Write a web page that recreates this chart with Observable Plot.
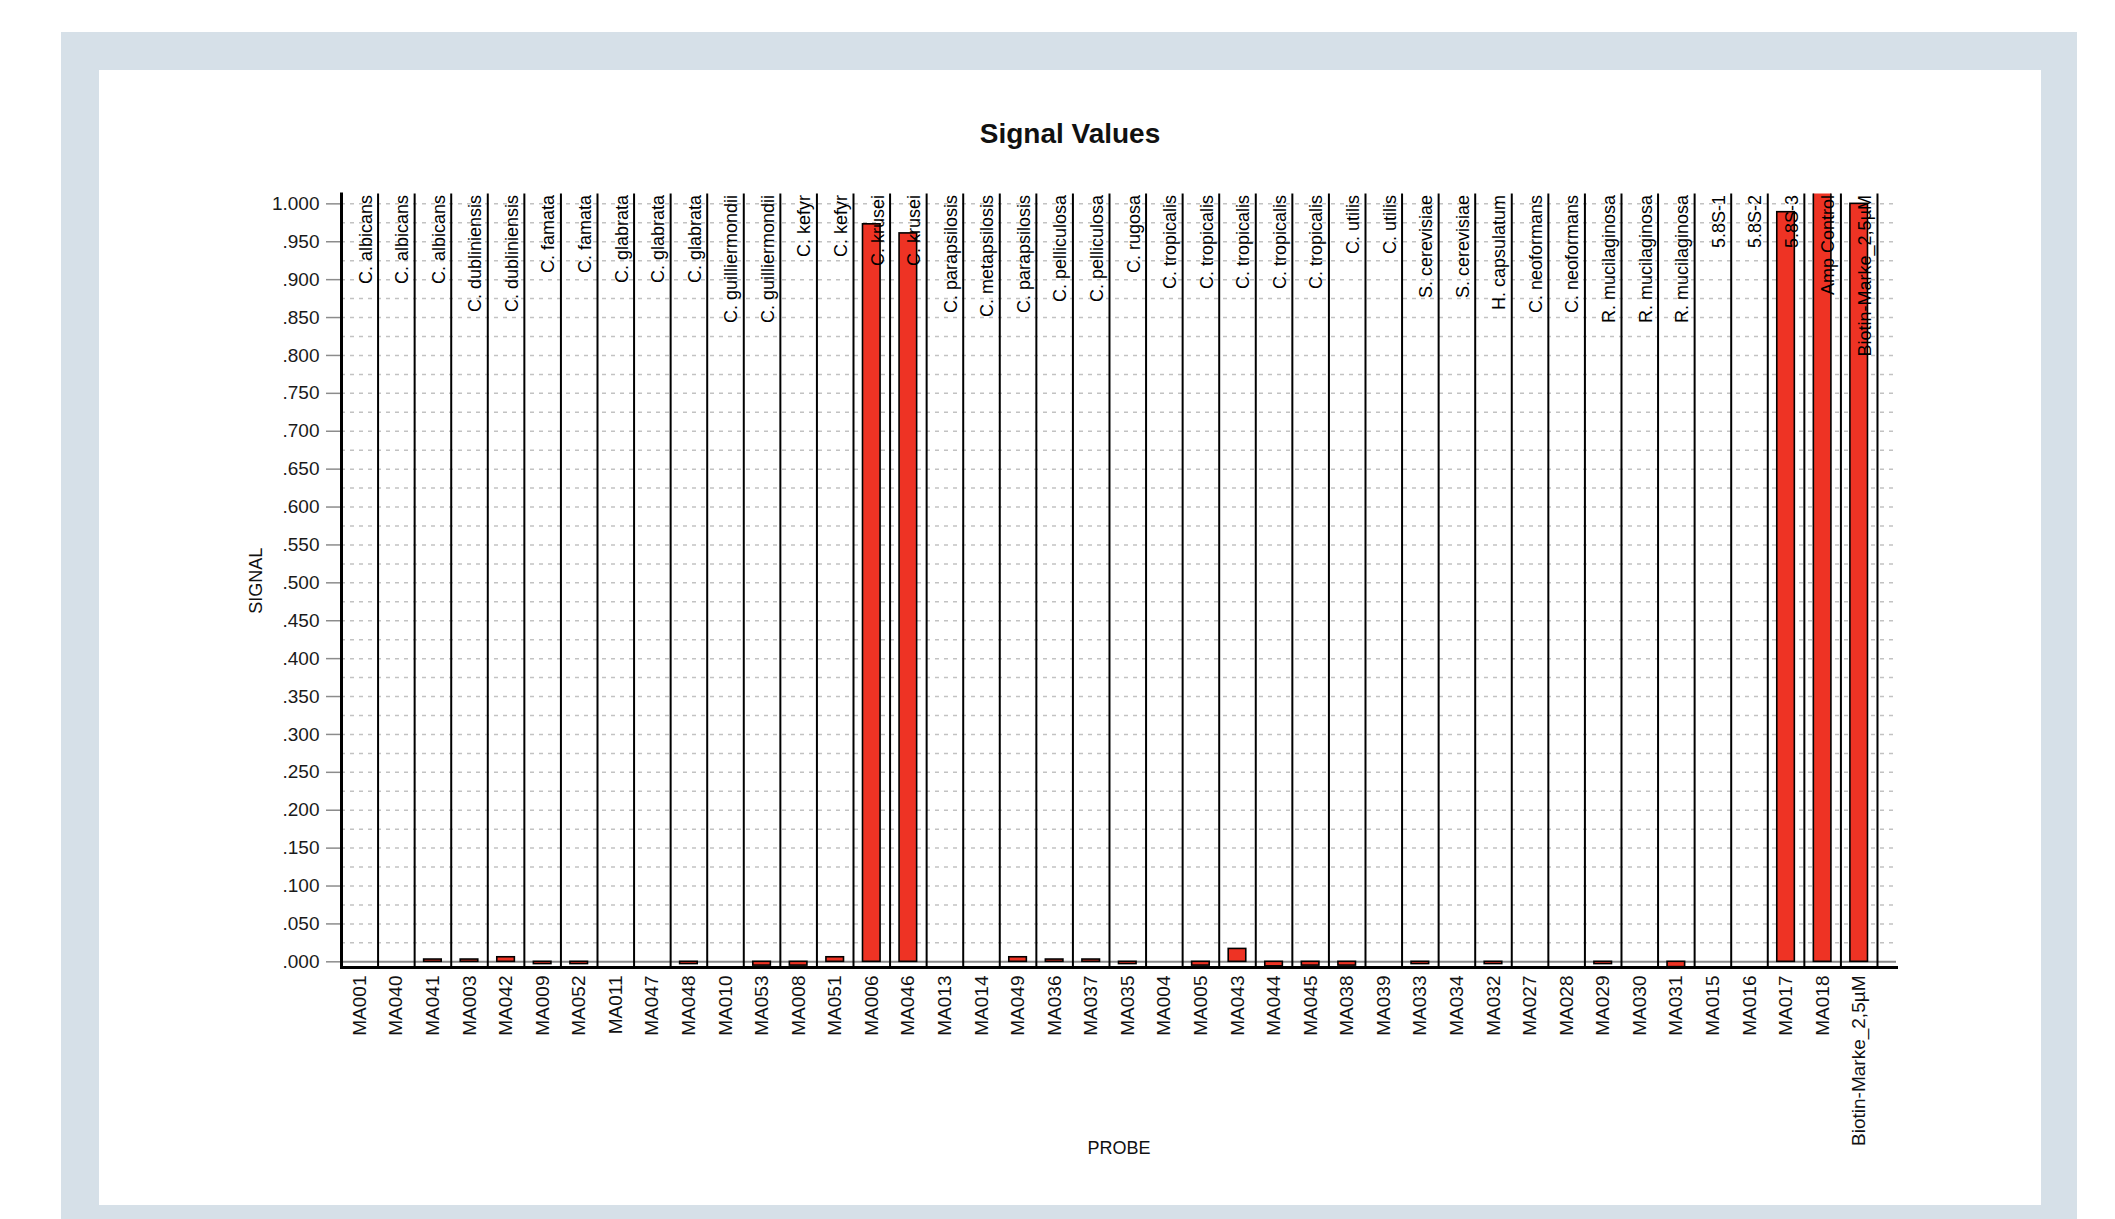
<!DOCTYPE html>
<html>
<head>
<meta charset="utf-8">
<script src="https://cdn.jsdelivr.net/npm/d3@7"></script>
<script src="https://cdn.jsdelivr.net/npm/@observablehq/plot@0.6"></script>
<style>
  html, body { margin: 0; padding: 0; background: #fff; width: 2115px; height: 1219px; overflow: hidden; }
  #backdrop { position: absolute; left: 61px; top: 32px; width: 2016px; height: 1187px; background: #d6e0e8; }
  #panel { position: absolute; left: 99px; top: 70px; width: 1942px; height: 1135px; background: #fff; }
  #title { position: absolute; left: 0; top: 50px; width: 100%; text-align: center;
           font: bold 28px/28px "Liberation Sans", Arial, sans-serif; color: #111; }
  #chart { position: absolute; left: 0; top: 90px; }
</style>
</head>
<body>
<div id="backdrop"></div>
<div id="panel">
  <div id="title">Signal Values</div>
  <div id="chart"></div>
</div>
<script>
// Probe identifiers along the x axis
const probes = [
  "MA001", "MA040", "MA041", "MA003", "MA042", "MA009", "MA052", "MA011", "MA047", "MA048",
  "MA010", "MA053", "MA008", "MA051", "MA006", "MA046", "MA013", "MA014", "MA049", "MA036",
  "MA037", "MA035", "MA004", "MA005", "MA043", "MA044", "MA045", "MA038", "MA039", "MA033",
  "MA034", "MA032", "MA027", "MA028", "MA029", "MA030", "MA031", "MA015", "MA016", "MA017",
  "MA018", "Biotin-Marke_2,5µM"
];

// Target organism of each probe, written at the top of its column
const species = [
  "C. albicans", "C. albicans", "C. albicans", "C. dubliniensis", "C. dubliniensis",
  "C. famata", "C. famata", "C. glabrata", "C. glabrata", "C. glabrata",
  "C. guilliermondii", "C. guilliermondii", "C. kefyr", "C. kefyr", "C. krusei", "C. krusei",
  "C. parapsilosis", "C. metapsilosis", "C. parapsilosis", "C. pelliculosa", "C. pelliculosa",
  "C. rugosa", "C. tropicalis", "C. tropicalis", "C. tropicalis", "C. tropicalis", "C. tropicalis",
  "C. utilis", "C. utilis", "S. cerevisiae", "S. cerevisiae", "H. capsulatum",
  "C. neoformans", "C. neoformans", "R. mucilaginosa", "R. mucilaginosa", "R. mucilaginosa",
  "5.8S-1", "5.8S-2", "5.8S-3", "Amp Control", "Biotin-Marke_2,5µM"
];

// Measured signal per probe
const signal = [
  0, 0, 0.003, 0.003, 0.006, -0.003, -0.003, 0, 0, -0.003,
  0, -0.005, -0.005, 0.006, 0.973, 0.961, 0, 0, 0.006, 0.003,
  0.003, -0.003, 0, -0.005, 0.017, -0.006, -0.005, -0.005, 0, -0.003,
  0, -0.003, 0, 0, -0.003, 0, -0.007, 0, 0, 0.989,
  1.02, 1.0
];

// Labelled y ticks
const yTickValues = [0, 0.05, 0.1, 0.15, 0.2, 0.25, 0.3, 0.35, 0.4, 0.45, 0.5,
                     0.55, 0.6, 0.65, 0.7, 0.75, 0.8, 0.85, 0.9, 0.95, 1];
const yTickLabels = [".000", ".050", ".100", ".150", ".200", ".250", ".300", ".350", ".400", ".450", ".500",
                     ".550", ".600", ".650", ".700", ".750", ".800", ".850", ".900", ".950", "1.000"];

const rows = probes.map((probe, i) => ({probe, species: species[i], signal: signal[i]}));

const width = 1942, height = 1045;
const marginLeft = 242, marginRight = 145, marginTop = 33.5, marginBottom = 238;
const paddingOuter = 0.26;
const step = (width - marginLeft - marginRight) / (probes.length + 2 * paddingOuter);
const gridValues = d3.range(1, 41).map(k => k * 0.025);
const font = "'Liberation Sans', Arial, sans-serif";

const chart = Plot.plot({
  width, height, marginLeft, marginRight, marginTop, marginBottom,
  style: {fontFamily: font, fontSize: "18px", color: "#111", background: "#fff"},
  x: {type: "band", domain: probes, paddingInner: 0, paddingOuter, align: 0, round: false, axis: null},
  y: {domain: [-0.0075, 1.013], axis: null},
  marks: [
    Plot.gridY(gridValues, {stroke: "#c2c2c2", strokeOpacity: 1, strokeWidth: 1.5, strokeDasharray: "4,5"}),
    Plot.ruleY([0], {stroke: "#8a8a8a", strokeWidth: 2}),
    // column separators on the right edge of each probe
    Plot.ruleX(probes, {dx: step / 2, stroke: "#000", strokeWidth: 2}),
    Plot.barY(rows.filter(d => d.signal !== 0), {
      x: "probe", y: "signal", fill: "#ee3324", stroke: "#000", strokeWidth: 1.6,
      insetLeft: 9.5, insetRight: 9.5, clip: true
    }),
    Plot.text(rows, {
      x: "probe", text: "species", frameAnchor: "top", rotate: -90,
      textAnchor: "end", lineAnchor: "middle",
      dx: 6, dy: 1, fontSize: 18, fill: "#000"
    }),
    Plot.axisY({
      ticks: yTickValues, tickFormat: d => yTickLabels[yTickValues.indexOf(d)],
      tickSize: 15, tickPadding: 7, stroke: "#8c8c8c", strokeWidth: 1.5,
      fill: "#1a1a1a", fontSize: 19, label: null
    }),
    Plot.axisX({tickRotate: -90, tickSize: 0, tickPadding: 8, fontSize: 19, fill: "#111", label: null}),
    Plot.frame({anchor: "left", stroke: "#000", strokeWidth: 3}),
    Plot.frame({anchor: "bottom", stroke: "#000", strokeWidth: 3}),
    Plot.text(["SIGNAL"], {
      frameAnchor: "left", dx: -85, rotate: -90, textAnchor: "middle", lineAnchor: "middle",
      fontSize: 18, fill: "#111"
    }),
    Plot.text(["PROBE"], {
      frameAnchor: "bottom", dy: 181, textAnchor: "middle", lineAnchor: "middle",
      fontSize: 18, fill: "#111"
    })
  ]
});

document.getElementById("chart").appendChild(chart);
</script>
</body>
</html>
